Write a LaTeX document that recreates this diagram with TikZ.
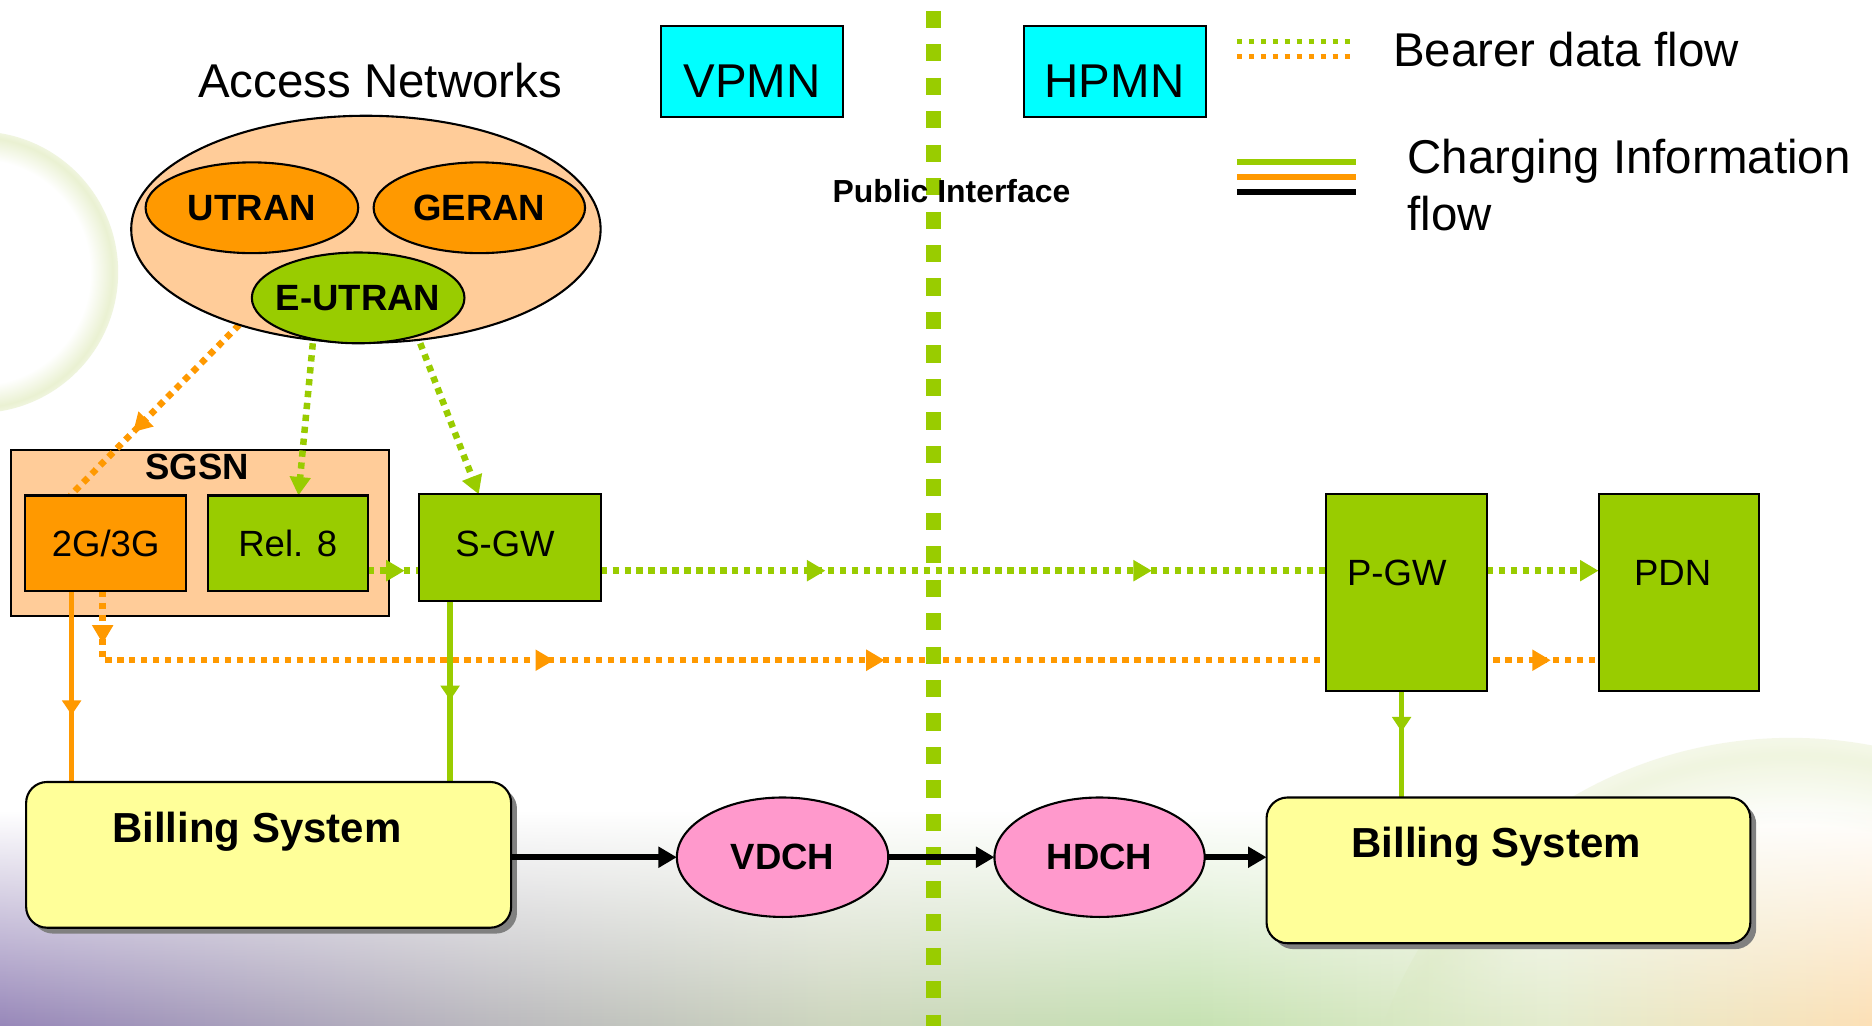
\documentclass[tikz,border=0pt]{standalone}
\usepackage{fontspec}
\setmainfont{Liberation Sans}
\usetikzlibrary{arrows.meta,decorations.markings,shapes.geometric,calc,fadings,shadows}

\definecolor{lgreen}{HTML}{99CC00}
\definecolor{lorange}{HTML}{FF9900}
\definecolor{peach}{HTML}{FFCC99}
\definecolor{vcyan}{HTML}{00FFFF}
\definecolor{billy}{HTML}{FFFF99}
\definecolor{dpink}{HTML}{FF99CC}
\definecolor{ringg}{HTML}{EAF1D2}
\definecolor{bpurple}{RGB}{152,136,186}
\definecolor{bgrey}{RGB}{186,184,190}
\definecolor{bsage}{RGB}{205,214,190}
\definecolor{bgreen}{RGB}{198,226,178}
\definecolor{bcream}{RGB}{228,236,206}
\definecolor{bpeach}{RGB}{252,224,182}

\pgfdeclarelayer{bg}
\pgfdeclarelayer{under}
\pgfdeclarelayer{wires}
\pgfsetlayers{bg,under,wires,main}

\pgfdeclareradialshading{softring}{\pgfpoint{0bp}{0bp}}{color(0bp)=(white); color(20bp)=(white); color(24bp)=(ringg); color(25bp)=(ringg!70!white); color(50bp)=(white)}
\pgfdeclarehorizontalshading{bandcols}{100bp}{color(0bp)=(bpurple); color(25bp)=(bpurple); color(37.8bp)=(bgrey); color(47.3bp)=(bsage); color(56.9bp)=(bgreen); color(66.5bp)=(bcream); color(75bp)=(bpeach); color(100bp)=(bpeach)}
\tikzfading[name=bandfade, top color=transparent!100, bottom color=transparent!0]

\newcommand\fbig{\fontsize{11.3}{13.7}\selectfont}
\newcommand\fnode{\fontsize{8.7}{10.4}\selectfont}
\newcommand\fbold{\fontsize{8.7}{10.4}\selectfont\bfseries}
\newcommand\fbill{\fontsize{10}{12}\selectfont\bfseries}
\newcommand\fpub{\fontsize{7.6}{9}\selectfont\bfseries}

\begin{document}
\begin{tikzpicture}[x=0.01cm, y=-0.01cm,
  every node/.style={outer sep=0pt, inner sep=0pt},
  blk/.style={draw=black, line width=0.5pt, rectangle},
  ovl/.style={draw=black, line width=0.5pt, ellipse},
  bill/.style={blk, fill=billy, rounded corners=5pt,
    drop shadow={shadow xshift=1.4pt, shadow yshift=-1.4pt, fill=black!50, opacity=1}},
  bearer/.style={line width=1.55pt, dash pattern=on 1.5pt off 1.35pt},
  legdot/.style={line width=1.25pt, dash pattern=on 1.25pt off 1.6pt},
  chg/.style={line width=1.35pt},
  pubdash/.style={color=lgreen, line width=3.7pt, dash pattern=on 4.1pt off 3.87pt},
  tipd/.tip={Triangle[length=4.4pt,width=4.8pt]},
  tips/.tip={Triangle[length=3.5pt,width=4.4pt]},
  tipb/.tip={Triangle[length=4.4pt,width=4.8pt]},
  dmk/.style={postaction={decorate, decoration={markings, mark=at position #1 with {\arrow{tipd}}}}},
  smk/.style={postaction={decorate, decoration={markings, mark=at position #1 with {\arrow{tips}}}}},
]
\useasboundingbox (0,0) rectangle (1568,859);

% ---------- background ----------
\begin{pgfonlayer}{bg}
  \fill[white] (0,0) rectangle (1568,859);
  \begin{scope}
    \clip (0,0) rectangle (1568,859);
    \shade[shading=softring] (-19,228) circle (118);
    \shade[shading=softring, opacity=0.7] (1500,981) circle (363);
    \shade[shading=bandcols, path fading=bandfade] (0,680) rectangle (1568,859);
  \end{scope}
\end{pgfonlayer}

% ---------- access networks ----------
\node[font=\fbig, anchor=base west] (antitle) at (166,81.5) {Access Networks};
\node[ovl, fill=peach, minimum width=3.93cm, minimum height=1.9cm] (an) at (306.5,192) {};
\node[ovl, fill=lorange, minimum width=1.78cm, minimum height=0.76cm, font=\fbold] (utran) at (211,174) {\makebox[0pt]{UTRAN}};
\node[ovl, fill=lorange, minimum width=1.77cm, minimum height=0.76cm, font=\fbold] (geran) at (401.5,174) {\makebox[0pt]{GERAN}};
\node[ovl, fill=lgreen, minimum width=1.78cm, minimum height=0.76cm, font=\fbold] (eutran) at (300,249.5) {\makebox[0pt]{E-UTRAN}};

% ---------- network labels ----------
\node[blk, fill=vcyan, minimum width=1.525cm, minimum height=0.765cm] (vpmn) at (630,60) {};
\node[font=\fbig, anchor=base] (vpmnlbl) at (630,81.5) {VPMN};
\node[blk, fill=vcyan, minimum width=1.525cm, minimum height=0.765cm] (hpmn) at (934,60) {};
\node[font=\fbig, anchor=base] (hpmnlbl) at (933.5,81.5) {HPMN};

% ---------- core nodes ----------
\begin{pgfonlayer}{under}
  \node[blk, fill=peach, minimum width=3.17cm, minimum height=1.39cm] (sgsn) at (167.5,446.5) {};
  \node[font=\fbold, anchor=base] (sgsnlbl) at (165,402) {SGSN};
\end{pgfonlayer}
\node[blk, fill=lorange, minimum width=1.35cm, minimum height=0.8cm, font=\fnode] (g23) at (88.5,455) {2G/3G};
\node[blk, fill=lgreen, minimum width=1.34cm, minimum height=0.8cm, font=\fnode] (rel8) at (241,455) {Rel. 8};
\node[blk, fill=lgreen, minimum width=1.52cm, minimum height=0.89cm] (sgw) at (427,458.5) {};
\node[font=\fnode, anchor=base] (sgwlbl) at (423,466) {S-GW};
\node[blk, fill=lgreen, minimum width=1.345cm, minimum height=1.65cm] (pgw) at (1178,496.5) {};
\node[font=\fnode, anchor=base] (pgwlbl) at (1170,490) {P-GW};
\node[blk, fill=lgreen, minimum width=1.34cm, minimum height=1.65cm] (pdn) at (1406,496.5) {};
\node[font=\fnode, anchor=base] (pdnlbl) at (1401,490) {PDN};

% ---------- billing and clearing houses ----------
\node[bill, minimum width=4.06cm, minimum height=1.22cm] (bill1) at (225,716) {};
\node[font=\fbill, anchor=base west] (bill1lbl) at (94,706) {Billing System};
\node[bill, minimum width=4.05cm, minimum height=1.22cm] (bill2) at (1263.5,729) {};
\node[font=\fbill, anchor=base west] (bill2lbl) at (1132,718) {Billing System};
\node[ovl, fill=dpink, minimum width=1.77cm, minimum height=1cm, font=\fbold] (vdch) at (655.5,718) {\makebox[0pt]{VDCH}};
\node[ovl, fill=dpink, minimum width=1.76cm, minimum height=1cm, font=\fbold] (hdch) at (921,718) {\makebox[0pt]{HDCH}};

% ---------- bearer and charging flows ----------
\coordinate (ocorner) at (86,553);
\coordinate (pubtop) at (782,9);
\coordinate (pubbot) at (782,859);
\begin{pgfonlayer}{wires}
  \draw[bearer, color=lorange, dmk=0.63] (an.217) -- ($(g23.north)+(-29.5,0)$);
  \draw[bearer, color=lgreen, -{tipd}] ($(eutran.south)+(-38,0)$) -- ($(rel8.north)+(9,0)$);
  \draw[bearer, color=lgreen, -{tipd}] ($(eutran.south)+(52,0)$) -- ($(sgw.north)+(-26,0)$);
  \draw[bearer, color=lgreen, dmk=0.72] ($(rel8.east)+(0,23)$) -- ($(sgw.west)+(0,19.5)$);
  \draw[bearer, color=lgreen, dmk=0.31, dmk=0.76] ($(sgw.east)+(0,19.5)$) -- ($(pgw.west)+(0,-18.5)$);
  \draw[bearer, color=lgreen, -{tipd}] ($(pgw.east)+(0,-18.5)$) -- ($(pdn.west)+(0,-18.5)$);
  \draw[bearer, color=lorange, dmk=0.0336, dmk=0.3326, dmk=0.5439, dmk=0.9695]
    ($(g23.south)+(-2.5,0)$) -- (ocorner) -- (pdn.west |- ocorner);
  \draw[chg, color=lorange, smk=0.65] ($(g23.south)+(-28.5,0)$) -- ($(bill1.north)+(-165,0)$);
  \draw[chg, color=lgreen, smk=0.55] ($(sgw.south)+(-50,0)$) -- ($(bill1.north)+(152,0)$);
  \draw[chg, color=lgreen, smk=0.38] ($(pgw.south)+(-4,0)$) -- ($(bill2.north)+(-89.5,0)$);
  \draw[pubdash] (pubtop) -- (pubbot);
\end{pgfonlayer}

\node[font=\fpub, anchor=base] (pubif) at (797,170) {Public Interface};

% inter-operator charging exchange
\draw[line width=1.35pt, -{tipb}] ($(bill1.east)+(0,2)$) -- (vdch.west);
\draw[line width=1.35pt, -{tipb}] (vdch.east) -- (hdch.west);
\draw[line width=1.35pt, -{tipb}] (hdch.east) -- ($(bill2.west)+(0,-11)$);

% ---------- legend ----------
\coordinate (lga1) at (1036,34.5);  \coordinate (lga2) at (1136,34.5);
\coordinate (lgb1) at (1036,47);    \coordinate (lgb2) at (1136,47);
\coordinate (lgc1) at (1036,135.5); \coordinate (lgc2) at (1136,135.5);
\coordinate (lgd1) at (1036,148.5); \coordinate (lgd2) at (1136,148.5);
\coordinate (lge1) at (1036,161);   \coordinate (lge2) at (1136,161);
\draw[legdot, color=lgreen] (lga1) -- (lga2);
\draw[legdot, color=lorange] (lgb1) -- (lgb2);
\draw[line width=1.42pt, color=lgreen] (lgc1) -- (lgc2);
\draw[line width=1.42pt, color=lorange] (lgd1) -- (lgd2);
\draw[line width=1.42pt, color=black] (lge1) -- (lge2);
\node[font=\fbig, anchor=base west] (leg1) at (1167,56) {Bearer data flow};
\node[font=\fbig, anchor=base west] (leg2) at (1179,145) {Charging Information};
\node[font=\fbig, anchor=base west] (leg3) at (1179,193) {flow};
\end{tikzpicture}
\end{document}
